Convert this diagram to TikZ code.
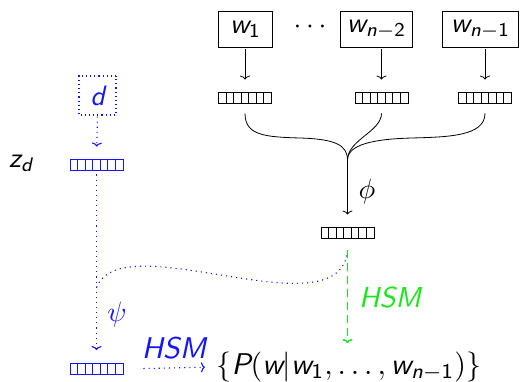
\documentclass[tikz,border=0pt]{standalone}
\usetikzlibrary{arrows.meta}
\DeclareSymbolFont{sfl}{TU}{lmss}{m}{sl}
\DeclareSymbolFont{sfu}{TU}{lmss}{m}{n}
\DeclareMathSymbol{w}{\mathalpha}{sfl}{`w}
\DeclareMathSymbol{n}{\mathalpha}{sfl}{`n}
\DeclareMathSymbol{d}{\mathalpha}{sfl}{`d}
\DeclareMathSymbol{z}{\mathalpha}{sfl}{`z}
\DeclareMathSymbol{P}{\mathalpha}{sfl}{`P}
\DeclareMathSymbol{H}{\mathalpha}{sfl}{`H}
\DeclareMathSymbol{S}{\mathalpha}{sfl}{`S}
\DeclareMathSymbol{M}{\mathalpha}{sfl}{`M}
\DeclareMathSymbol{1}{\mathalpha}{sfu}{`1}
\DeclareMathSymbol{2}{\mathalpha}{sfu}{`2}
\definecolor{myblue}{RGB}{20,20,255}
\definecolor{mygreen}{RGB}{30,230,30}
\begin{document}
\begin{tikzpicture}[x=1pt,y=-1pt,
  font=\fontsize{10}{12}\selectfont,
  line width=1pt,
  big/.style={scale=2.8},
  wbox/.style={big, draw, line width=1pt, minimum height=13.21pt, inner sep=0pt},
  vec/.style={draw=#1, line width=0.9pt, minimum width=53pt, minimum height=11pt, inner sep=0pt,
    path picture={\foreach \k in {1,...,6}{\draw[#1,line width=0.9pt] ([xshift=\k*53pt/7]path picture bounding box.south west) -- ([xshift=\k*53pt/7]path picture bounding box.north west);}}},
  tip/.style={-{To[length=4pt,width=10pt]}},
  arr/.style={tip, line width=0.8pt},
  bdot/.style={myblue, line width=1.1pt, dash pattern=on 1.1pt off 4pt},
  barr/.style={bdot, tip},
  garr/.style={mygreen, line width=1.5pt, dash pattern=on 8pt off 5pt, tip},
  lbl/.style={big, inner sep=0pt}
]
\useasboundingbox (0,0) rectangle (523,382);

\node[wbox, minimum width=19.64pt] (w1) at (245.5,29.5) {$w_1$};
\node[wbox, minimum width=25.36pt] (w2) at (376.5,29.5) {$w_{n-2}$};
\node[wbox, minimum width=26.79pt] (w3) at (480.5,29.5) {$w_{n-1}$};
\node[lbl] (dots) at (310,27) {$\cdots$};

\node[vec=black] (v1) at (245,97.5) {};
\node[vec=black] (v2) at (381.5,97.5) {};
\node[vec=black] (v3) at (485,97.5) {};
\node[vec=black] (vm) at (347.5,232.5) {};

\draw[arr, shorten >=12pt] (w1.south -| v1.north) -- (v1.north);
\draw[arr, shorten >=12pt] (w2.south -| v2.north) -- (v2.north);
\draw[arr, shorten >=12pt] (w3.south -| v3.north) -- (v3.north);

\coordinate (m) at (347.5,160);
\draw[line width=0.8pt] ([yshift=-10pt]v1.south) .. controls +(0,22) and +(-35,-1) .. (300,138) .. controls +(35,1) and +(0,-15) .. (m);
\draw[line width=0.8pt] ([yshift=-10pt]v3.south) .. controls +(0,23) and +(35,-1) .. (412,138) .. controls +(-40,1) and +(0,-15) .. (m);
\draw[line width=0.8pt] ([yshift=-10pt]v2.south) .. controls +(0,18) and +(0,-20) .. (m);
\draw[arr, shorten >=12pt] (m) -- (vm.north);
\node[lbl] (phi) at (367,192) {$\phi$};

\node[big, draw=myblue, text=myblue, line width=1.1pt, dash pattern=on 1.1pt off 3pt, minimum width=13.21pt, minimum height=13.93pt, inner sep=0pt] (d) at (97.5,95.5) {$d$};
\node[vec=myblue] (vz) at (96.5,164.5) {};
\node[lbl] (zd) at (21,163) {$z_d$};
\node[vec=myblue] (vb) at (96.5,369) {};

\draw[barr, shorten >=12pt] (d.south) -- (vz.north);
\draw[barr, shorten <=4pt, shorten >=13pt] (vz.south) -- (vb.north);
\node[lbl, text=myblue] (psi) at (117,315) {$\psi$};

\coordinate (j) at (96.5,288);
\draw[bdot] ([yshift=-12pt]vm.south) .. controls (340,335) and (120,222) .. (j);

\coordinate (g) at (347.5,343);
\draw[garr] ([yshift=-12pt]vm.south) -- (g);
\node[lbl, scale=1.03, text=mygreen] (hsmg) at (390,297) {$HSM$};

\node[anchor=west, inner sep=0pt, scale=3.0] (P) at (215,367) {$\{P(w|w_1,\ldots,w_{n-1})\}$};
\draw[barr, shorten <=20pt, shorten >=10pt] (vb.east) -- (P.west);
\node[lbl, scale=1.07, text=myblue] (hsmb) at (174,348) {$HSM$};
\end{tikzpicture}
\end{document}
